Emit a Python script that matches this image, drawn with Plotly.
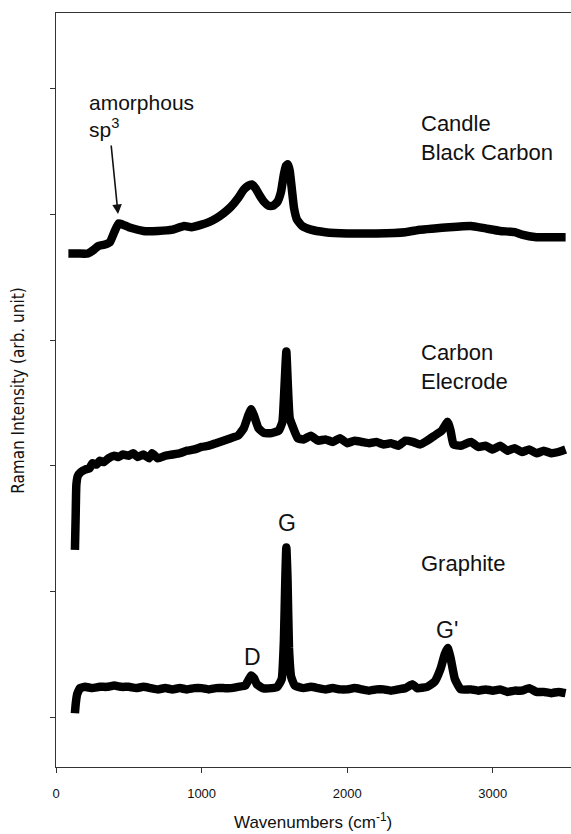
import plotly.graph_objects as go

# ---------------- data ----------------
graphite_x = [130, 135, 145, 165, 200, 250, 300, 350, 400, 450, 500, 550, 600, 650, 700, 750, 800, 850,
              900, 950, 1000, 1050, 1100, 1150, 1200, 1250, 1300, 1320, 1340, 1360, 1380, 1420, 1480, 1520,
              1550, 1565, 1575, 1582, 1590, 1600, 1615, 1640, 1700, 1750, 1800, 1850, 1900, 1950, 2000,
              2050, 2100, 2150, 2200, 2250, 2300, 2350, 2400, 2450, 2480, 2550, 2600, 2640, 2670, 2690,
              2710, 2740, 2780, 2850, 2900, 2950, 3000, 3050, 3100, 3150, 3200, 3250, 3300, 3350, 3400,
              3450, 3500]
graphite_y = [1.03, 1.10, 1.18, 1.23, 1.24, 1.23, 1.24, 1.24, 1.25, 1.24, 1.24, 1.23, 1.24, 1.23, 1.22,
              1.23, 1.22, 1.23, 1.22, 1.23, 1.23, 1.22, 1.23, 1.23, 1.23, 1.24, 1.25, 1.29, 1.33, 1.31,
              1.26, 1.23, 1.23, 1.24, 1.30, 1.60, 2.10, 2.35, 2.10, 1.55, 1.32, 1.25, 1.23, 1.24, 1.23,
              1.22, 1.23, 1.22, 1.22, 1.23, 1.22, 1.21, 1.22, 1.22, 1.21, 1.22, 1.23, 1.26, 1.23, 1.24,
              1.28, 1.38, 1.50, 1.55, 1.47, 1.30, 1.22, 1.22, 1.21, 1.22, 1.21, 1.22, 1.20, 1.21, 1.21,
              1.23, 1.20, 1.20, 1.19, 1.20, 1.19]

electrode_x = [130, 135, 140, 150, 170, 200, 230, 250, 280, 300, 330, 360, 400, 430, 460, 500, 530, 560,
               600, 640, 660, 700, 750, 800, 850, 900, 950, 1000, 1050, 1100, 1150, 1200, 1250, 1290,
               1320, 1340, 1360, 1390, 1430, 1480, 1530, 1555, 1570, 1582, 1592, 1605, 1630, 1660, 1700,
               1750, 1800, 1850, 1900, 1950, 2000, 2050, 2100, 2150, 2200, 2250, 2300, 2350, 2400, 2450,
               2500, 2550, 2600, 2650, 2690, 2710, 2730, 2780, 2850, 2900, 2950, 3000, 3050, 3100, 3150,
               3200, 3250, 3300, 3350, 3400, 3450, 3500]
electrode_y = [2.33, 2.60, 2.85, 2.92, 2.95, 2.97, 2.98, 3.02, 3.01, 3.04, 3.03, 3.06, 3.08, 3.07, 3.09,
               3.08, 3.10, 3.07, 3.09, 3.06, 3.10, 3.06, 3.08, 3.09, 3.10, 3.12, 3.13, 3.15, 3.16, 3.18,
               3.20, 3.22, 3.24, 3.30, 3.40, 3.45, 3.40, 3.30, 3.26, 3.26, 3.28, 3.35, 3.65, 3.91, 3.65,
               3.38, 3.30, 3.22, 3.21, 3.24, 3.20, 3.21, 3.19, 3.22, 3.18, 3.20, 3.19, 3.18, 3.19, 3.17,
               3.18, 3.16, 3.20, 3.19, 3.17, 3.20, 3.24, 3.28, 3.35, 3.28, 3.17, 3.16, 3.19, 3.15, 3.16,
               3.13, 3.16, 3.12, 3.14, 3.11, 3.13, 3.10, 3.12, 3.10, 3.11, 3.13]

candle_x = [85, 150, 220, 260, 290, 330, 370, 400, 430, 460, 500, 600, 700, 800, 880, 930, 1000, 1050,
            1100, 1150, 1200, 1250, 1290, 1320, 1345, 1370, 1400, 1430, 1460, 1490, 1520, 1545, 1565,
            1580, 1592, 1605, 1620, 1635, 1655, 1690, 1750, 1850, 2000, 2200, 2400, 2500, 2600, 2700,
            2850, 2950, 3050, 3150, 3200, 3300, 3400, 3500]
candle_y = [4.69, 4.69, 4.69, 4.72, 4.75, 4.76, 4.78, 4.86, 4.93, 4.92, 4.90, 4.87, 4.87, 4.88, 4.91,
            4.90, 4.92, 4.94, 4.97, 5.01, 5.06, 5.13, 5.20, 5.23, 5.24, 5.21, 5.15, 5.10, 5.07, 5.07,
            5.10, 5.18, 5.32, 5.39, 5.40, 5.35, 5.20, 5.05, 4.96, 4.91, 4.88, 4.86, 4.85, 4.85, 4.86,
            4.88, 4.89, 4.90, 4.91, 4.89, 4.87, 4.86, 4.84, 4.82, 4.82, 4.82]

x_ticks = [0, 1000, 2000, 3000]
y_ticks = [1, 2, 3, 4, 5, 6]

FONT = "Liberation Sans, Arial, sans-serif"

fig = go.Figure()
for xs, ys in [(graphite_x, graphite_y), (electrode_x, electrode_y), (candle_x, candle_y)]:
    fig.add_trace(go.Scatter(x=xs, y=ys, mode="lines",
                             line=dict(color="black", width=8.5, shape="spline", smoothing=0.4),
                             showlegend=False, hoverinfo="skip"))

def label(text, x, y, size=22, xanchor="left"):
    fig.add_annotation(x=x, y=y, xref="x", yref="y", text=text, showarrow=False,
                       xanchor=xanchor, yanchor="middle",
                       font=dict(family=FONT, size=size, color="#111"))

label("Candle", 2493, 5.729)
label("Black Carbon", 2493, 5.498)
label("Carbon", 2493, 3.906)
label("Elecrode", 2493, 3.675)
label("Graphite", 2493, 2.226)
label("G", 1587, 2.545, size=23, xanchor="center")
label("D", 1352, 1.478, size=23, xanchor="center")
label("G'", 2685, 1.693, size=23, xanchor="center")
label("amorphous", 213, 5.889, size=21)
label("sp<sup>3</sup>", 213, 5.690, size=21)

# arrow pointing to amorphous sp3 feature
fig.add_annotation(x=426, y=5.005, xref="x", yref="y", ax=-7, ay=-70,
                   text="", showarrow=True, arrowhead=2, arrowsize=1.2,
                   arrowwidth=1.6, arrowcolor="#111")

# axis titles
fig.add_annotation(text="Wavenumbers (cm<sup>-1</sup>)", xref="x", yref="paper",
                   x=1768, y=-0.072, showarrow=False, xanchor="center", yanchor="middle",
                   font=dict(family=FONT, size=17, color="#111"))
fig.add_annotation(text="Raman Intensity (arb. unit)", xref="paper", yref="y",
                   x=-0.073, y=3.6, showarrow=False, textangle=-90,
                   xanchor="center", yanchor="middle",
                   font=dict(family="Liberation Sans Narrow, DejaVu Sans Condensed, " + FONT,
                             size=17, color="#111"))

fig.update_layout(
    width=571, height=834,
    margin=dict(l=56, r=0, t=13, b=67),
    paper_bgcolor="white", plot_bgcolor="white",
    xaxis=dict(range=[0, 3537], tickvals=x_ticks, ticktext=[str(v) for v in x_ticks],
               showgrid=False, zeroline=False, showline=True, linecolor="#333",
               linewidth=1.2, mirror=True, ticks="outside", ticklen=5, tickcolor="#333",
               ticklabelstandoff=9,
               tickfont=dict(family=FONT, size=13, color="#111")),
    yaxis=dict(range=[0.602, 6.605], tickvals=y_ticks, showticklabels=False,
               showgrid=False, zeroline=False, showline=True, linecolor="#333",
               linewidth=1.2, ticks="outside", ticklen=5, tickcolor="#333"),
)

fig.write_html("out.html")
